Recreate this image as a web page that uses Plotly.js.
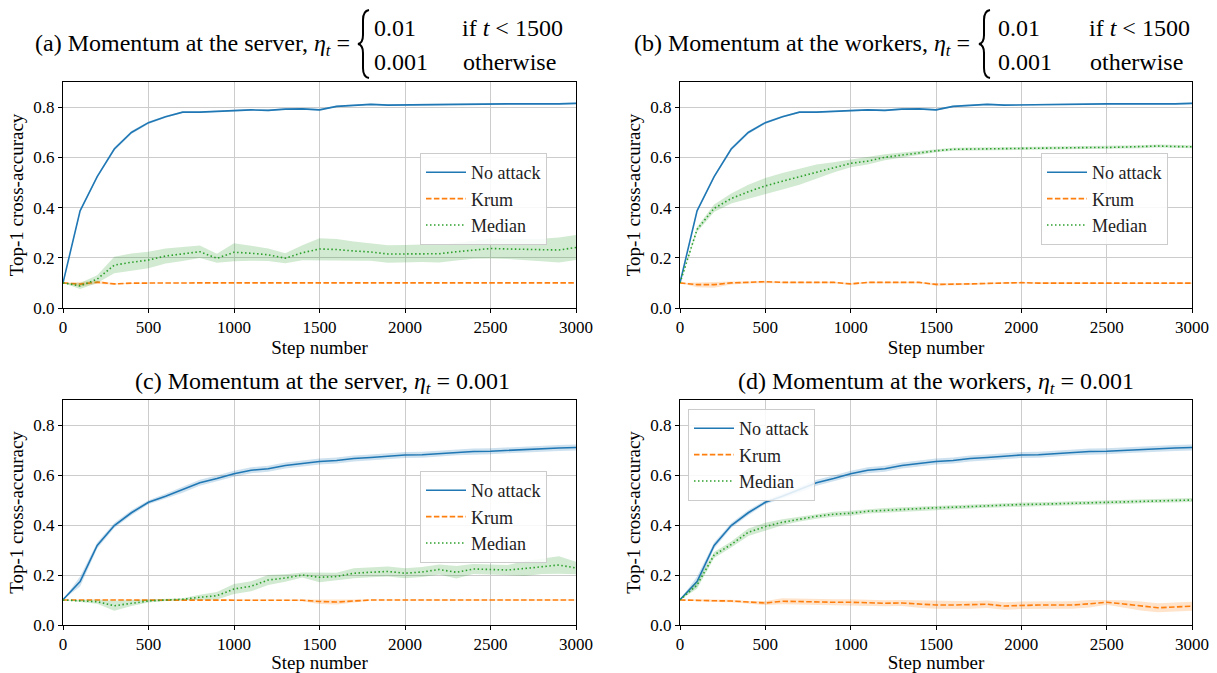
<!DOCTYPE html>
<html>
<head>
<meta charset="utf-8">
<script src="https://cdn.plot.ly/plotly-3.0.1.min.js"></script>
<style>html,body{margin:0;padding:0;background:#fff;}#chart{width:1217px;height:673px;}</style>
</head>
<body>
<div id="chart"></div>
<script>
// ---------- data ----------
var steps = [0,100,200,300,400,500,600,700,800,900,1000,1100,1200,1300,1400,1500,1600,1700,1800,1900,2000,2100,2200,2300,2400,2500,2600,2700,2800,2900,3000];
var seriesNames = ["No attack", "Krum", "Median"];
var xTickVals = [0,500,1000,1500,2000,2500,3000];
var yTickVals = [0,0.2,0.4,0.6,0.8];

// (a) and (b): step-decay learning rate (No attack baseline is shared)
var noAttackAB = [0.100,0.387,0.523,0.633,0.699,0.738,0.762,0.780,0.780,0.784,0.787,0.789,0.787,0.792,0.793,0.789,0.803,0.807,0.811,0.808,0.809,0.811,0.811,0.811,0.812,0.813,0.813,0.813,0.812,0.813,0.815];
var noAttackABsd = [0,0.004,0.005,0.007,0.006,0.005,0.004,0.003,0.003,0.003,0.003,0.003,0.003,0.003,0.003,0.003,0.003,0.003,0.003,0.003,0.003,0.003,0.003,0.003,0.003,0.003,0.003,0.003,0.003,0.003,0.003];

var krumA = [0.100,0.095,0.103,0.096,0.099,0.100,0.100,0.100,0.100,0.100,0.100,0.100,0.100,0.100,0.100,0.100,0.100,0.100,0.100,0.100,0.100,0.100,0.100,0.100,0.100,0.100,0.100,0.100,0.100,0.100,0.100];
var krumAsd = [0,0.010,0.006,0.003,0.002,0.001,0.001,0.001,0.001,0.001,0.001,0.001,0.001,0.001,0.001,0.001,0.001,0.001,0.001,0.001,0.001,0.001,0.001,0.001,0.001,0.001,0.001,0.001,0.001,0.001,0.001];
var medianA = [0.100,0.088,0.115,0.171,0.182,0.191,0.207,0.215,0.224,0.198,0.222,0.218,0.212,0.198,0.220,0.235,0.233,0.227,0.223,0.215,0.216,0.218,0.216,0.224,0.231,0.237,0.235,0.233,0.231,0.231,0.241];
var medianAsd = [0,0.012,0.015,0.033,0.035,0.033,0.030,0.028,0.025,0.018,0.036,0.030,0.025,0.020,0.030,0.043,0.042,0.038,0.035,0.035,0.035,0.035,0.035,0.035,0.035,0.040,0.040,0.042,0.045,0.050,0.050];

var krumB = [0.100,0.093,0.093,0.100,0.102,0.105,0.102,0.102,0.102,0.102,0.096,0.102,0.102,0.102,0.102,0.094,0.094,0.096,0.098,0.101,0.101,0.099,0.099,0.099,0.099,0.098,0.097,0.098,0.098,0.099,0.099];
var krumBsd = [0,0.010,0.012,0.006,0.004,0.004,0.003,0.003,0.003,0.003,0.004,0.003,0.003,0.003,0.003,0.005,0.005,0.004,0.003,0.003,0.003,0.003,0.003,0.003,0.003,0.003,0.003,0.003,0.003,0.003,0.003];
var medianB = [0.100,0.313,0.397,0.436,0.463,0.486,0.505,0.523,0.543,0.560,0.576,0.585,0.600,0.609,0.618,0.626,0.632,0.633,0.634,0.635,0.637,0.637,0.638,0.638,0.639,0.639,0.641,0.642,0.645,0.643,0.642];
var medianBsd = [0,0.010,0.015,0.020,0.028,0.032,0.033,0.032,0.028,0.020,0.015,0.014,0.012,0.010,0.008,0.006,0.006,0.006,0.006,0.006,0.006,0.006,0.006,0.006,0.006,0.006,0.006,0.006,0.006,0.006,0.006];

// (c) and (d): constant learning rate 0.001 (No attack baseline is shared)
var noAttackCD = [0.101,0.174,0.318,0.398,0.449,0.491,0.515,0.541,0.569,0.586,0.605,0.619,0.625,0.638,0.646,0.654,0.658,0.666,0.670,0.676,0.680,0.681,0.686,0.691,0.694,0.695,0.699,0.703,0.706,0.708,0.710];
var noAttackCDsd = [0,0.020,0.012,0.010,0.010,0.008,0.010,0.012,0.012,0.012,0.012,0.012,0.012,0.012,0.012,0.012,0.012,0.012,0.012,0.012,0.012,0.012,0.012,0.012,0.012,0.012,0.012,0.012,0.012,0.012,0.012];

var krumC = [0.100,0.100,0.100,0.100,0.100,0.100,0.100,0.100,0.100,0.100,0.100,0.100,0.100,0.100,0.099,0.094,0.092,0.096,0.100,0.100,0.100,0.100,0.100,0.100,0.100,0.100,0.100,0.100,0.100,0.100,0.100];
var krumCsd = [0,0.002,0.002,0.002,0.002,0.002,0.002,0.002,0.002,0.002,0.002,0.002,0.002,0.002,0.004,0.010,0.010,0.006,0.002,0.002,0.002,0.002,0.002,0.002,0.002,0.002,0.002,0.002,0.002,0.002,0.002];
var medianC = [0.100,0.097,0.093,0.077,0.088,0.096,0.100,0.103,0.111,0.117,0.144,0.155,0.180,0.188,0.200,0.191,0.194,0.207,0.211,0.214,0.207,0.212,0.222,0.211,0.224,0.222,0.220,0.226,0.234,0.240,0.228];
var medianCsd = [0,0.005,0.008,0.020,0.012,0.006,0.004,0.004,0.010,0.015,0.020,0.020,0.020,0.015,0.010,0.020,0.015,0.020,0.020,0.020,0.020,0.020,0.020,0.025,0.020,0.020,0.020,0.030,0.030,0.035,0.025];

var krumD = [0.100,0.100,0.097,0.096,0.091,0.088,0.095,0.093,0.091,0.091,0.091,0.088,0.087,0.088,0.084,0.080,0.080,0.080,0.083,0.076,0.079,0.080,0.080,0.080,0.085,0.091,0.084,0.076,0.069,0.072,0.075];
var krumDsd = [0,0.003,0.005,0.005,0.005,0.008,0.012,0.012,0.012,0.012,0.012,0.012,0.012,0.012,0.015,0.015,0.015,0.015,0.015,0.015,0.015,0.015,0.015,0.015,0.015,0.010,0.015,0.018,0.018,0.018,0.018];
var medianD = [0.100,0.160,0.280,0.322,0.371,0.394,0.411,0.424,0.435,0.443,0.447,0.455,0.459,0.462,0.466,0.469,0.471,0.474,0.477,0.479,0.482,0.483,0.485,0.486,0.489,0.491,0.492,0.495,0.496,0.499,0.500];
var medianDsd = [0,0.015,0.012,0.012,0.015,0.015,0.012,0.010,0.010,0.010,0.010,0.009,0.009,0.009,0.008,0.008,0.008,0.008,0.008,0.008,0.008,0.008,0.008,0.008,0.008,0.008,0.008,0.008,0.008,0.008,0.008];

// ---------- styling ----------
var W = 1217, H = 673;
var FONT = "'Liberation Serif', 'Times New Roman', serif";
var colors = ["#1f77b4", "#ff7f0e", "#2ca02c"];
var bands = ["rgba(31,119,180,0.22)", "rgba(255,127,14,0.22)", "rgba(44,160,44,0.22)"];
var dashes = ["solid", "5.5px,2.4px", "1.5px,2.5px"];

function px(x) { return x / W; }
function py(y) { return 1 - y / H; }

var traces = [];
function addSeries(k, xa, ya, leg, mean, sd) {
  var upper = mean.map(function (v, i) { return v + sd[i]; });
  var lower = mean.map(function (v, i) { return v - sd[i]; });
  traces.push({
    x: steps.concat(steps.slice().reverse()),
    y: upper.concat(lower.slice().reverse()),
    xaxis: xa, yaxis: ya, type: "scatter", mode: "lines",
    fill: "toself", fillcolor: bands[k], line: {width: 0, color: bands[k]},
    showlegend: false, hoverinfo: "skip"
  });
  traces.push({
    x: steps, y: mean, xaxis: xa, yaxis: ya, type: "scatter", mode: "lines",
    name: seriesNames[k], legend: leg,
    line: {color: colors[k], width: 1.6, dash: dashes[k]}
  });
}

var panels = [
  {xa: "x",  ya: "y",  leg: "legend",  data: [[noAttackAB, noAttackABsd], [krumA, krumAsd], [medianA, medianAsd]]},
  {xa: "x2", ya: "y2", leg: "legend2", data: [[noAttackAB, noAttackABsd], [krumB, krumBsd], [medianB, medianBsd]]},
  {xa: "x3", ya: "y3", leg: "legend3", data: [[noAttackCD, noAttackCDsd], [krumC, krumCsd], [medianC, medianCsd]]},
  {xa: "x4", ya: "y4", leg: "legend4", data: [[noAttackCD, noAttackCDsd], [krumD, krumDsd], [medianD, medianDsd]]}
];
panels.forEach(function (p) {
  p.data.forEach(function (d, k) { addSeries(k, p.xa, p.ya, p.leg, d[0], d[1]); });
});

function xAxis(dom, anchor) {
  return {
    domain: dom, anchor: anchor, range: [0, 3000], tickvals: xTickVals, ticktext: xTickVals.map(String),
    showline: true, mirror: true, linecolor: "#000", linewidth: 1,
    ticks: "outside", ticklen: 4, tickcolor: "#000", tickwidth: 1,
    showgrid: true, gridcolor: "#cccccc", gridwidth: 1, zeroline: false,
    tickfont: {family: FONT, size: 17, color: "#000"},
    title: {text: "Step number", font: {family: FONT, size: 19, color: "#000"}, standoff: 1}
  };
}
function yAxis(dom, anchor) {
  return {
    domain: dom, anchor: anchor, range: [0, 0.9], tickvals: yTickVals, ticktext: yTickVals.map(function (v) { return v.toFixed(1); }),
    showline: true, mirror: true, linecolor: "#000", linewidth: 1,
    ticks: "outside", ticklen: 4, tickcolor: "#000", tickwidth: 1,
    showgrid: true, gridcolor: "#cccccc", gridwidth: 1, zeroline: false,
    tickfont: {family: FONT, size: 17, color: "#000"},
    title: {text: "Top-1 cross-accuracy", font: {family: FONT, size: 19, color: "#000"}, standoff: 4}
  };
}
function legendAt(x, y) {
  return {
    x: px(x), y: py(y), xanchor: "left", yanchor: "top", xref: "paper", yref: "paper",
    bgcolor: "rgba(255,255,255,0.85)", bordercolor: "#cccccc", borderwidth: 1,
    font: {family: FONT, size: 18, color: "#222"}, tracegroupgap: 0, itemwidth: 40
  };
}

var colL = [px(63), px(576)], colR = [px(680), px(1192)];
var rowT = [py(308), py(82)], rowB = [py(625), py(400)];

var TF = {family: FONT, size: 24, color: "#000"};
function ann(text, x, y, xanchor) {
  return {text: text, x: px(x), y: py(y), xref: "paper", yref: "paper", xanchor: xanchor, yanchor: "middle", showarrow: false, font: TF};
}
function bracePath(bx, top, bot, mid) {
  var pts = [
    ["M", bx + 11, top], ["Q", bx + 5, top + 1, bx + 5, top + 10], ["L", bx + 5, mid - 9],
    ["Q", bx + 5, mid - 1, bx, mid], ["Q", bx + 5, mid + 1, bx + 5, mid + 9], ["L", bx + 5, bot - 10],
    ["Q", bx + 5, bot - 1, bx + 11, bot]
  ];
  return pts.map(function (s) {
    var out = s[0];
    for (var i = 1; i < s.length; i += 2) out += " " + px(s[i]).toFixed(5) + "," + py(s[i + 1]).toFixed(5);
    return out;
  }).join(" ");
}

var eta = "<i>η</i><sub><i>t</i></sub>";
var annotations = [
  ann("(a) Momentum at the server, " + eta + " =", 352, 45, "right"),
  ann("0.01", 372, 28, "left"), ann("0.001", 372, 62, "left"),
  ann("if <i>t</i> &lt; 1500", 460, 28, "left"), ann("otherwise", 461, 62, "left"),
  ann("(b) Momentum at the workers, " + eta + " =", 972, 45, "right"),
  ann("0.01", 996, 28, "left"), ann("0.001", 996, 62, "left"),
  ann("if <i>t</i> &lt; 1500", 1087, 28, "left"), ann("otherwise", 1088, 62, "left"),
  ann("(c) Momentum at the server, " + eta + " = 0.001", 322, 383, "center"),
  ann("(d) Momentum at the workers, " + eta + " = 0.001", 936, 383, "center")
];
var shapes = [
  {type: "path", xref: "paper", yref: "paper", path: bracePath(358, 10, 78, 44), line: {color: "#000", width: 2}},
  {type: "path", xref: "paper", yref: "paper", path: bracePath(979, 10, 78, 44), line: {color: "#000", width: 2}}
];

var layout = {
  width: W, height: H, margin: {l: 0, r: 0, t: 0, b: 0},
  paper_bgcolor: "#fff", plot_bgcolor: "#fff",
  font: {family: FONT, color: "#000"},
  xaxis: xAxis(colL, "y"), yaxis: yAxis(rowT, "x"),
  xaxis2: xAxis(colR, "y2"), yaxis2: yAxis(rowT, "x2"),
  xaxis3: xAxis(colL, "y3"), yaxis3: yAxis(rowB, "x3"),
  xaxis4: xAxis(colR, "y4"), yaxis4: yAxis(rowB, "x4"),
  legend: legendAt(420, 153), legend2: legendAt(1041, 153),
  legend3: legendAt(420, 471), legend4: legendAt(688, 409),
  annotations: annotations, shapes: shapes, showlegend: true
};

Plotly.newPlot("chart", traces, layout, {displayModeBar: false, staticPlot: true});
</script>
</body>
</html>
